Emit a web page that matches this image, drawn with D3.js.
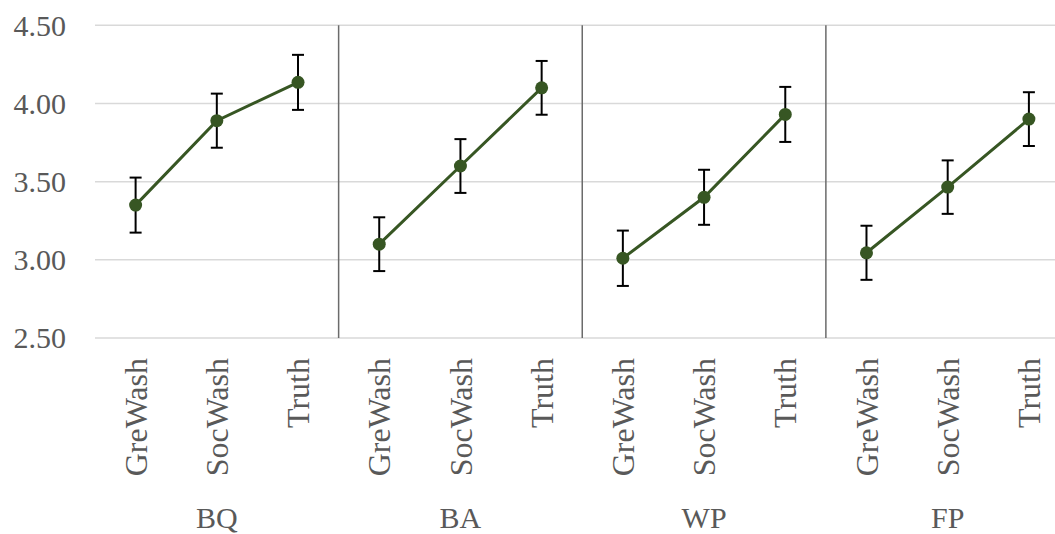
<!DOCTYPE html>
<html>
<head>
<meta charset="utf-8">
<script src="https://cdn.jsdelivr.net/npm/d3@7"></script>
<style>
body{margin:0;background:#fff;}
svg{display:block;font-family:"Liberation Serif","Times New Roman",serif;}
</style>
</head>
<body>
<svg id="chart" width="1055" height="534"></svg>
<script>
// data
var groups = ["BQ", "BA", "WP", "FP"];
var categories = ["GreWash", "SocWash", "Truth"];
var means = [
  [3.35, 3.89, 4.135],
  [3.10, 3.60, 4.10],
  [3.01, 3.40, 3.93],
  [3.045, 3.465, 3.90]
];
var errs = [
  [0.176, 0.173, 0.176],
  [0.172, 0.172, 0.172],
  [0.177, 0.176, 0.176],
  [0.173, 0.171, 0.172]
];
var yTicks = [2.5, 3.0, 3.5, 4.0, 4.5];

var svg = d3.select("#chart");
var mLeft = 95, mRight = 1069.5, mTop = 25.3, mBottom = 338;

var y = d3.scaleLinear().domain([2.5, 4.5]).range([mBottom, mTop]);
var gx = d3.scaleBand().domain(groups).range([mLeft, mRight]);
var cx = d3.scaleBand().domain(categories).range([0, gx.bandwidth()]);
function px(g, c) { return gx(g) + cx(c) + cx.bandwidth() / 2; }

// gridlines
svg.append("g").selectAll("line").data(yTicks).join("line")
  .attr("x1", mLeft).attr("x2", mRight)
  .attr("y1", d => y(d)).attr("y2", d => y(d))
  .attr("stroke", "#d9d9d9").attr("stroke-width", 1.5);

// y labels
svg.append("g").selectAll("text").data(yTicks).join("text")
  .attr("x", 66).attr("y", d => y(d)).attr("dy", "0.34em")
  .attr("text-anchor", "end").attr("font-size", 30).attr("fill", "#595959")
  .text(d => d3.format(".2f")(d));

// group separators
svg.append("g").selectAll("line").data(groups.slice(1)).join("line")
  .attr("x1", d => gx(d)).attr("x2", d => gx(d))
  .attr("y1", mTop).attr("y2", mBottom)
  .attr("stroke", "#6b6b6b").attr("stroke-width", 1.5);

// category labels
groups.forEach(function(g) {
  svg.append("g").selectAll("text").data(categories).join("text")
    .attr("transform", c => "translate(" + px(g, c) + ",358) rotate(-90)")
    .attr("dy", "0.35em").attr("text-anchor", "end")
    .attr("font-size", 32).attr("fill", "#595959")
    .text(c => c);
});

// group labels
svg.append("g").selectAll("text").data(groups).join("text")
  .attr("x", d => gx(d) + gx.bandwidth() / 2).attr("y", 528)
  .attr("text-anchor", "middle").attr("font-size", 30).attr("fill", "#595959")
  .text(d => d);

var line = d3.line().x(d => d.x).y(d => y(d.v));

groups.forEach(function(g, gi) {
  var pts = categories.map((c, ci) => ({ x: px(g, c), v: means[gi][ci], e: errs[gi][ci] }));
  var gg = svg.append("g");
  gg.append("path").datum(pts).attr("d", line)
    .attr("fill", "none").attr("stroke", "#375623").attr("stroke-width", 3);
  // error bars
  var eb = gg.selectAll("g.eb").data(pts).join("g").attr("class", "eb")
    .attr("stroke", "#000").attr("stroke-width", 2);
  eb.append("line").attr("x1", d => d.x).attr("x2", d => d.x)
    .attr("y1", d => y(d.v + d.e)).attr("y2", d => y(d.v - d.e));
  eb.append("line").attr("x1", d => d.x - 6).attr("x2", d => d.x + 6)
    .attr("y1", d => y(d.v + d.e)).attr("y2", d => y(d.v + d.e));
  eb.append("line").attr("x1", d => d.x - 6).attr("x2", d => d.x + 6)
    .attr("y1", d => y(d.v - d.e)).attr("y2", d => y(d.v - d.e));
  gg.selectAll("circle").data(pts).join("circle")
    .attr("cx", d => d.x).attr("cy", d => y(d.v)).attr("r", 6.5)
    .attr("fill", "#375623");
});
</script>
</body>
</html>
